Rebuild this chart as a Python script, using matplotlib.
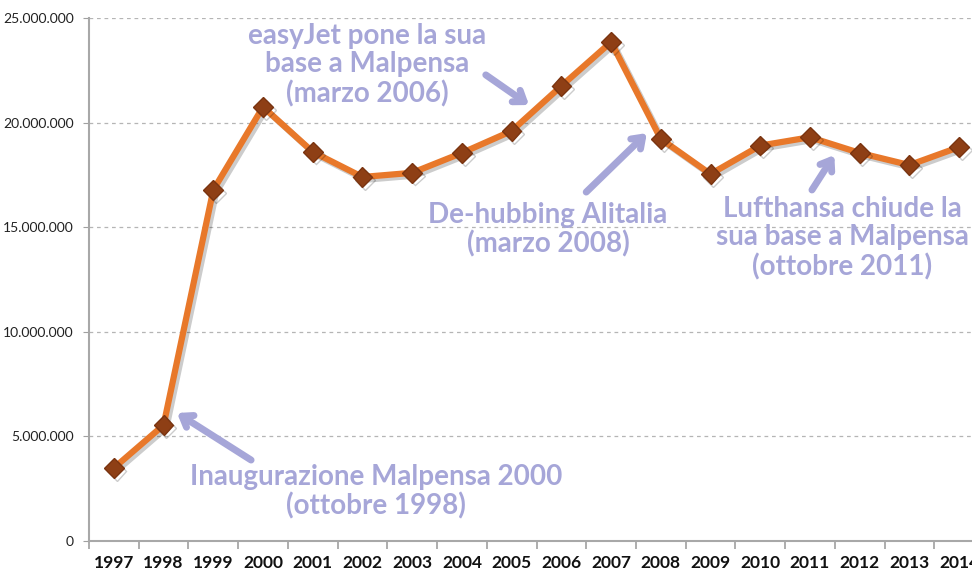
import matplotlib.pyplot as plt
import matplotlib.patheffects as pe
from matplotlib.ticker import FuncFormatter, MultipleLocator

anni = ['1997', '1998', '1999', '2000', '2001', '2002', '2003', '2004', '2005',
        '2006', '2007', '2008', '2009', '2010', '2011', '2012', '2013', '2014']
passeggeri = [3.49e6, 5.54e6, 16.78e6, 20.75e6, 18.6e6, 17.4e6, 17.6e6, 18.55e6, 19.6e6,
              21.75e6, 23.85e6, 19.22e6, 17.54e6, 18.9e6, 19.3e6, 18.55e6, 17.97e6, 18.83e6]

note = [
    "easyJet pone la sua\nbase a Malpensa\n(marzo 2006)",
    "De-hubbing Alitalia\n(marzo 2008)",
    "Lufthansa chiude la\nsua base a Malpensa\n(ottobre 2011)",
    "Inaugurazione Malpensa 2000\n(ottobre 1998)",
]
# posizione testo (indice anno, valore), coda e punta della freccia
pos_testo = [(5.09, 22.75e6), (8.73, 14.87e6), (14.65, 14.48e6), (5.27, 2.34e6)]
frecce = [((7.48, 22.28e6), (8.35, 20.84e6)),
          ((9.5, 16.68e6), (10.72, 19.5e6)),
          ((14.04, 16.78e6), (14.49, 18.45e6)),
          ((2.76, 3.87e6), (1.27, 6.12e6))]

lavanda = '#a6a6d8'
plt.rcParams['font.family'] = ['Lato', 'DejaVu Sans']

fig = plt.figure(figsize=(9.72, 5.75), dpi=100)
ax = fig.add_axes([89 / 972, 34 / 575, 895 / 972, 523 / 575])

x = list(range(len(anni)))
ax.plot(x, passeggeri, color='#e8782a', lw=4.5, marker='D', markersize=10,
        markerfacecolor='#8e3f15', markeredgecolor='#7a3410', markeredgewidth=1,
        path_effects=[pe.SimpleLineShadow(offset=(2, -2), alpha=0.2), pe.Normal()],
        zorder=3)

ax.set_xlim(-0.5, len(anni) - 0.5)
ax.set_ylim(0, 25e6)
ax.set_xticks(x)
ax.set_xticklabels(anni, fontsize=12.5, fontweight='bold', color='#111111')
ax.xaxis.set_minor_locator(MultipleLocator(1, offset=0.5))
ax.tick_params(axis='x', which='major', length=0, pad=10)
ax.tick_params(axis='x', which='minor', length=6, color='#a0a0a0', width=1.2)
ax.yaxis.set_major_locator(MultipleLocator(5e6))
ax.yaxis.set_major_formatter(FuncFormatter(lambda v, p: f"{int(v):,}".replace(',', '.')))
ax.tick_params(axis='y', length=4, color='#a0a0a0', labelsize=10, labelcolor='#222222', pad=7)
ax.grid(axis='y', linestyle=(0, (3, 3)), color='#b5b5b5', lw=0.9)
ax.set_axisbelow(True)
for s in ['top', 'right']:
    ax.spines[s].set_visible(False)
for s in ['left', 'bottom']:
    ax.spines[s].set_color('#a8a8a8')
    ax.spines[s].set_linewidth(1.5)

for testo, (tx, ty) in zip(note, pos_testo):
    ax.text(tx, ty, testo, ha='center', va='center', fontsize=20, fontweight='bold',
            color=lavanda, linespacing=1.12, zorder=4)
for coda, punta in frecce:
    ax.annotate('', xy=punta, xytext=coda,
                arrowprops=dict(arrowstyle='->,head_length=0.7,head_width=0.5',
                                lw=5, color=lavanda, shrinkA=0, shrinkB=0), zorder=4)

fig.savefig('out.png', dpi=100)
